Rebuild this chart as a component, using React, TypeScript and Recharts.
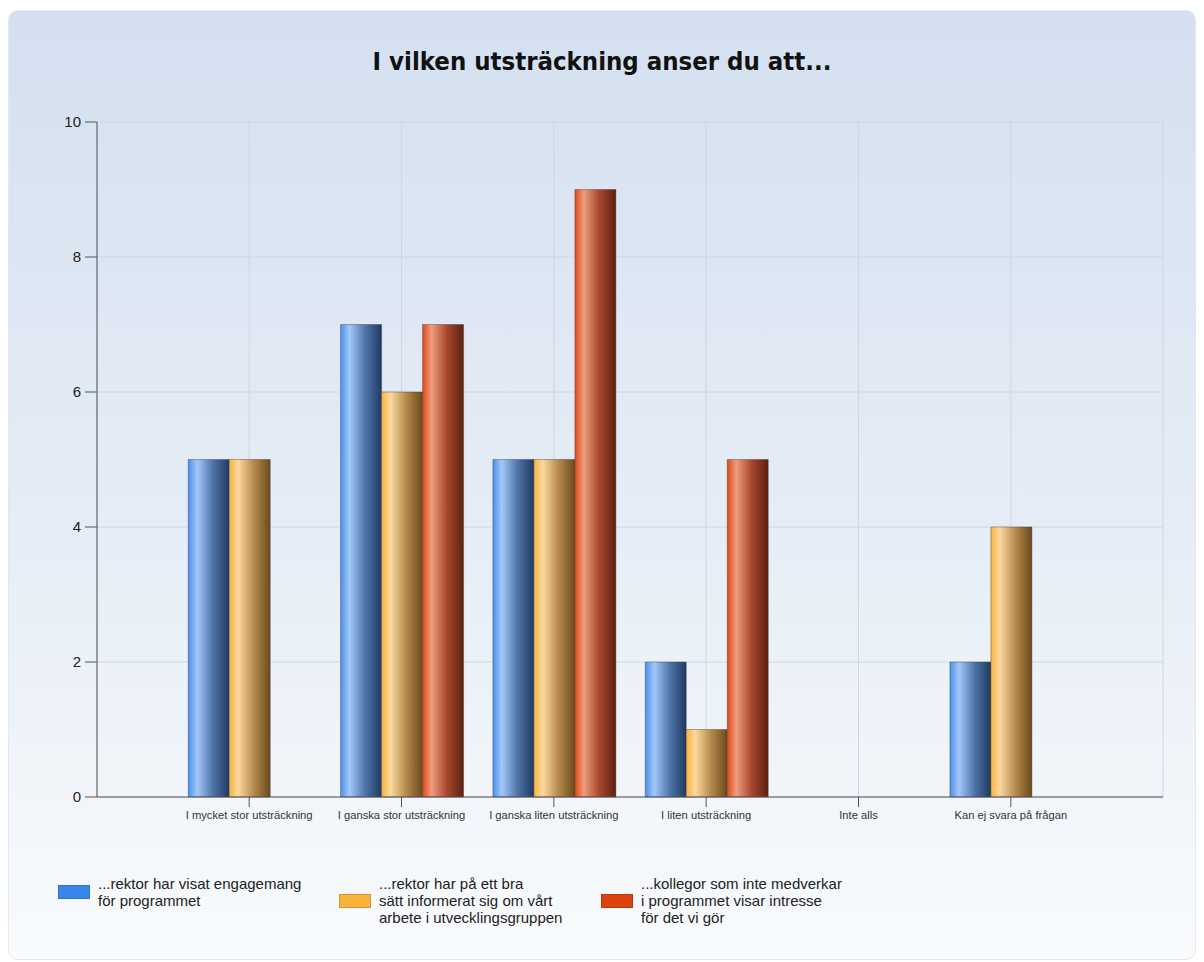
import { Bar, BarChart, CartesianGrid, XAxis, YAxis } from "recharts"

const CATEGORIES = [
  "I mycket stor utsträckning",
  "I ganska stor utsträckning",
  "I ganska liten utsträckning",
  "I liten utsträckning",
  "Inte alls",
  "Kan ej svara på frågan",
]
const ENGAGEMANG = [5, 7, 5, 2, 0, 2]
const INFORMERAT = [5, 6, 5, 1, 0, 4]
const KOLLEGOR = [0, 7, 9, 5, 0, 0]
const Y_TICKS = [0, 2, 4, 6, 8, 10]

const LEGEND_LINES = [
  ["...rektor har visat engagemang", "för programmet"],
  ["...rektor har på ett bra", "sätt informerat sig om vårt", "arbete i utvecklingsgruppen"],
  ["...kollegor som inte medverkar", "i programmet visar intresse", "för det vi gör"],
]
const LEGEND_COLORS = ["#3a85eb", "#f9b23a", "#dc4310"]

const AXIS = "#555"
const GRID = "#cdd6e2"
const SANS = "Arial, 'Liberation Sans', sans-serif"

const data = CATEGORIES.map((name, i) => ({
  name,
  engagemang: ENGAGEMANG[i],
  informerat: INFORMERAT[i],
  kollegor: KOLLEGOR[i],
}))

function Grad({ id, stops }: { id: string; stops: string[] }) {
  return (
    <linearGradient id={id} x1="0" y1="0" x2="1" y2="0">
      <stop offset="0%" stopColor={stops[0]} />
      <stop offset="22%" stopColor={stops[1]} />
      <stop offset="60%" stopColor={stops[2]} />
      <stop offset="100%" stopColor={stops[3]} />
    </linearGradient>
  )
}

export default function App() {
  return (
    <div style={{ paddingTop: 2 }}>
      <div
        style={{
          position: "relative",
          width: 1188,
          height: 950,
          boxSizing: "border-box",
          border: "1px solid #e3e8ef",
          borderRadius: 10,
          background: "linear-gradient(180deg, #d4e0f0 0%, #e6edf6 55%, #f9fbfd 100%)",
        }}
      >
        <div
          style={{
            position: "absolute",
            top: 35,
            left: 0,
            width: "100%",
            textAlign: "center",
            fontFamily: "'DejaVu Sans Condensed', 'DejaVu Sans', sans-serif",
            fontWeight: "bold",
            fontSize: 25.5,
            color: "#111",
          }}
        >
          I vilken utsträckning anser du att...
        </div>
        <div style={{ position: "absolute", top: 0, left: 0 }}>
          <BarChart
            width={1186}
            height={830}
            data={data}
            margin={{ top: 111, right: 32, left: 0, bottom: 14 }}
            barCategoryGap="10%"
            barGap={0}
          >
            <defs>
              <Grad id="gBlue" stops={["#4a8ff0", "#a3c8f6", "#4f74a8", "#1f3a63"]} />
              <Grad id="gYellow" stops={["#f7b23c", "#fcd9a0", "#b58a4c", "#6b4a1c"]} />
              <Grad id="gRed" stops={["#e04a16", "#ee9c7e", "#a6472c", "#5e2010"]} />
            </defs>
            <CartesianGrid stroke={GRID} />
            <XAxis
              dataKey="name"
              interval={0}
              height={30}
              padding={{ left: 76, right: 76 }}
              tickSize={10}
              tickMargin={4}
              stroke={AXIS}
              tick={{ fontSize: 11.2, fill: "#333", fontFamily: SANS }}
            />
            <YAxis
              width={88}
              domain={[0, 10]}
              ticks={Y_TICKS}
              tickSize={12}
              tickMargin={4}
              stroke={AXIS}
              tick={{ fontSize: 15, fill: "#222", fontFamily: SANS }}
            />
            <YAxis yAxisId="edge" orientation="right" width={0} tick={false} tickLine={false} stroke={GRID} />
            <Bar dataKey="engagemang" fill="url(#gBlue)" stroke="rgba(50,50,60,0.55)" strokeWidth={0.7} isAnimationActive={false} />
            <Bar dataKey="informerat" fill="url(#gYellow)" stroke="rgba(50,50,60,0.55)" strokeWidth={0.7} isAnimationActive={false} />
            <Bar dataKey="kollegor" fill="url(#gRed)" stroke="rgba(50,50,60,0.55)" strokeWidth={0.7} isAnimationActive={false} />
          </BarChart>
        </div>
        <div
          style={{
            position: "absolute",
            top: 864,
            left: 49,
            display: "flex",
            alignItems: "flex-start",
            fontFamily: SANS,
            fontSize: 15,
            lineHeight: "17px",
            color: "#222",
          }}
        >
          {LEGEND_LINES.map((lines, i) => (
            <div key={i} style={{ display: "flex", alignItems: "center", width: i === 0 ? 281 : i === 1 ? 262 : 260 }}>
              <div
                style={{
                  width: 32,
                  height: 14,
                  background: LEGEND_COLORS[i],
                  border: "1px solid rgba(0,0,0,0.15)",
                  boxSizing: "border-box",
                  marginRight: 8,
                  flex: "none",
                }}
              />
              <div style={{ whiteSpace: "nowrap" }}>
                {lines.map((l) => (
                  <div key={l}>{l}</div>
                ))}
              </div>
            </div>
          ))}
        </div>
      </div>
    </div>
  )
}
